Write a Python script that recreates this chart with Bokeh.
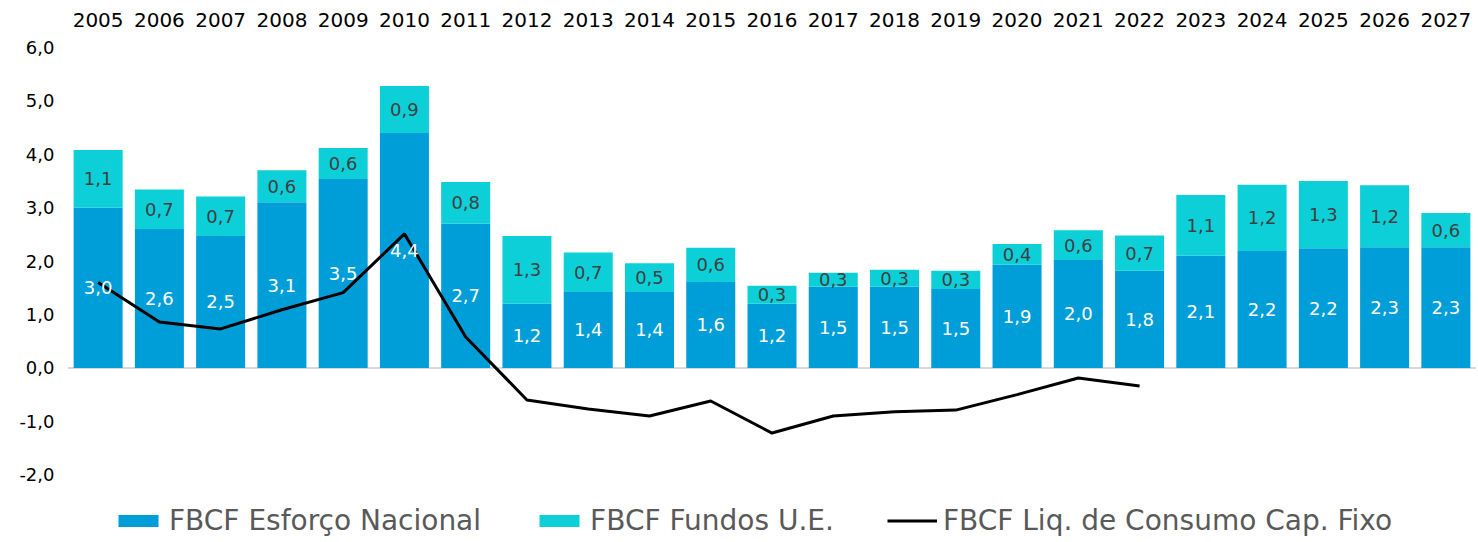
from bokeh.plotting import figure
from bokeh.models import (ColumnDataSource, FactorRange, Range1d, FixedTicker,
                          Span, Legend, LegendItem, LabelSet)
from bokeh.core.properties import value
from bokeh.embed import file_html
from bokeh.resources import INLINE

years = [str(y) for y in range(2005, 2028)]
nacional = [3.0, 2.6, 2.47, 3.1, 3.54, 4.4, 2.7, 1.2, 1.42, 1.42, 1.61, 1.2,
            1.52, 1.52, 1.48, 1.93, 2.02, 1.82, 2.1, 2.19, 2.24, 2.26, 2.26]
fundos = [1.08, 0.74, 0.74, 0.6, 0.58, 0.88, 0.78, 1.27, 0.74, 0.54, 0.64, 0.34,
          0.26, 0.32, 0.34, 0.39, 0.56, 0.66, 1.14, 1.24, 1.26, 1.16, 0.64]
line_years = [str(y) for y in range(2005, 2023)]
liquida = [1.6, 0.86, 0.73, 1.09, 1.41, 2.51, 0.58, -0.6, -0.77, -0.9, -0.62,
           -1.22, -0.9, -0.82, -0.79, -0.5, -0.19, -0.34]
y_ticks = [-2, -1, 0, 1, 2, 3, 4, 5, 6]

C_NAC = "#009ED8"
C_FUN = "#0CCFD8"
FONT = "DejaVu Sans"


def fmt(v):
    return f"{v:.1f}".replace(".", ",")


src = ColumnDataSource(dict(
    year=years, nacional=nacional, fundos=fundos,
    nac_mid=[n / 2 for n in nacional],
    fun_mid=[n + f / 2 for n, f in zip(nacional, fundos)],
    nac_lbl=[fmt(v) for v in nacional],
    fun_lbl=[fmt(v) for v in fundos],
))
lsrc = ColumnDataSource(dict(year=line_years, val=liquida))

p = figure(width=1476, height=540, x_range=FactorRange(*years),
           y_range=Range1d(-3.232, 6.225), output_backend="svg",
           toolbar_location=None, x_axis_location="above",
           min_border_left=67, min_border_right=0, min_border_top=35,
           min_border_bottom=0)
p.outline_line_color = None
p.grid.grid_line_color = None
p.x_range.range_padding = 0
p.background_fill_color = "white"

bars = p.vbar_stack(["nacional", "fundos"], x="year", width=0.8, source=src,
                    color=[C_NAC, C_FUN], line_color=None)
ln = p.line(x="year", y="val", source=lsrc, line_color="black", line_width=3)

p.add_layout(Span(location=0, dimension="width", line_color="#D9D9D9",
                  line_width=2, level="underlay"))

p.add_layout(LabelSet(x="year", y="nac_mid", text="nac_lbl", source=src,
                      text_align="center", text_baseline="middle",
                      text_color="white", text_font_size="18px",
                      text_font=value(FONT)))
p.add_layout(LabelSet(x="year", y="fun_mid", text="fun_lbl", source=src,
                      text_align="center", text_baseline="middle",
                      text_color="#404040", text_font_size="18px",
                      text_font=value(FONT)))

for ax in (p.xaxis, p.yaxis):
    ax.axis_line_color = None
    ax.major_tick_line_color = None
    ax.minor_tick_line_color = None
    ax.major_tick_out = 0
    ax.major_tick_in = 0
    ax.major_label_text_font = FONT
    ax.major_label_text_color = "#000000"
p.xaxis.major_label_text_font_size = "20px"
p.yaxis.major_label_text_font_size = "18px"
p.xaxis.major_label_standoff = 9
p.yaxis.major_label_standoff = 13
p.yaxis.ticker = FixedTicker(ticks=y_ticks)
p.yaxis.major_label_overrides = {t: fmt(t) for t in y_ticks}

legend = Legend(items=[
    LegendItem(label="FBCF Esforço Nacional", renderers=[bars[0]]),
    LegendItem(label="FBCF Fundos U.E.", renderers=[bars[1]]),
    LegendItem(label="FBCF Liq. de Consumo Cap. Fixo", renderers=[ln]),
], orientation="horizontal", location=(46, 3),
    label_text_font=FONT, label_text_font_size="28px",
    label_text_color="#595959", glyph_width=50, glyph_height=15,
    spacing=53, label_standoff=6, border_line_color=None,
    background_fill_alpha=0, padding=0, margin=0, label_height=30)
p.add_layout(legend)

open("out.html", "w").write(file_html(p, INLINE))
